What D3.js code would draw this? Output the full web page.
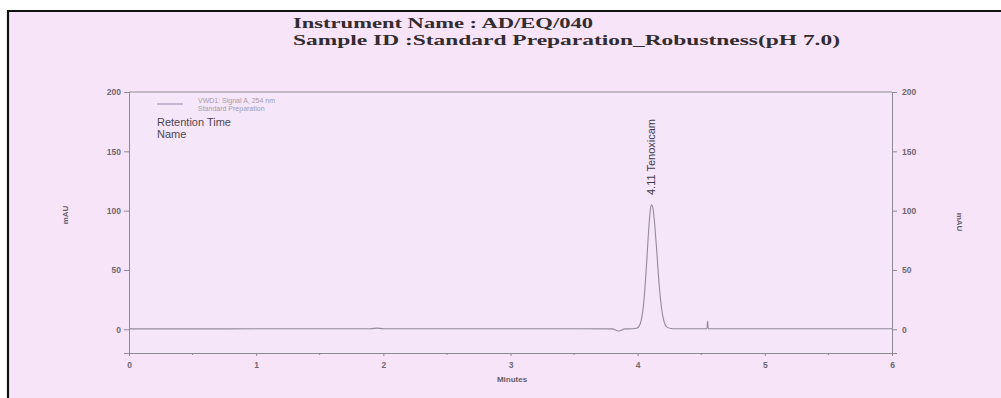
<!DOCTYPE html>
<html><head><meta charset="utf-8">
<script src="https://cdn.jsdelivr.net/npm/d3@7"></script>
<style>html,body{margin:0;padding:0;background:#fff;}svg{display:block;}</style>
</head><body>
<svg id="c" width="1001" height="398"></svg>
<script>
const titleLines = ["Instrument Name : AD/EQ/040", "Sample ID :Standard Preparation_Robustness(pH 7.0)"];
const legendLines = ["VWD1: Signal A, 254 nm", "Standard Preparation"];
const infoLines = ["Retention Time", "Name"];
const peakLabel = "4.11 Tenoxicam";
const xTicks = [0, 1, 2, 3, 4, 5, 6];
const yTicks = [0, 50, 100, 150, 200];
const xLabel = "Minutes";
const yLabel = "mAU";
const times  = [0, 0.5, 1, 1.5, 1.9, 1.95, 2, 2.5, 3, 3.5, 3.8, 3.85, 3.9, 3.96, 3.99, 4.01, 4.03, 4.05, 4.07, 4.09, 4.10, 4.11, 4.12, 4.13, 4.15, 4.17, 4.19, 4.21, 4.23, 4.26, 4.3, 4.4, 4.5, 4.545, 4.55, 4.555, 4.6, 5, 5.5, 6];
const values = [0.3, 0.3, 0.4, 0.4, 0.5, 1.0, 0.5, 0.4, 0.4, 0.4, 0.3, -1.5, 0.3, 0.4, 0.8, 2.4, 8.5, 25, 55, 89, 101, 105, 102, 93, 66, 36, 16, 5.5, 1.8, 0.7, 0.4, 0.4, 0.4, 0.5, 7, 0.5, 0.4, 0.4, 0.4, 0.4];

const svg = d3.select("#c");
svg.append("rect").attr("width",1001).attr("height",398).attr("fill","#fff");
svg.append("rect").attr("x",8).attr("y",11).attr("width",993).attr("height",387).attr("fill","#f8e4f9");
svg.append("line").attr("x1",7).attr("x2",1001).attr("y1",11).attr("y2",11).attr("stroke","#111").attr("stroke-width",2.2);
svg.append("line").attr("x1",8).attr("x2",8).attr("y1",10).attr("y2",398).attr("stroke","#111").attr("stroke-width",2.2);

const x = d3.scaleLinear().domain([0,6]).range([129,892]);
const y = d3.scaleLinear().domain([-20,200]).range([353,92]);

svg.append("rect").attr("x",x(0)).attr("y",y(200)).attr("width",x(6)-x(0)).attr("height",y(-20)-y(200)).attr("fill","#f6e6fa");

// titles
const tx = [293, 293], ty = [28, 45], tl = [300, 547];
titleLines.forEach((t,i)=>{
  svg.append("text").attr("x",tx[i]).attr("y",ty[i]).text(t)
    .attr("font-family","Liberation Serif, serif").attr("font-weight","bold").attr("font-size",15.5)
    .attr("fill","#332c30").attr("textLength",tl[i]).attr("lengthAdjust","spacingAndGlyphs");
});

const axisColor = "#8e8a92";
const styleAxis = g => {
  g.selectAll("path").attr("stroke",axisColor);
  g.selectAll("line").attr("stroke",axisColor);
  g.selectAll("text").attr("fill","#6e6872").attr("font-family","Liberation Sans, Arial, sans-serif").attr("font-size",8.5).attr("font-weight","bold");
};
svg.append("g").attr("transform",`translate(0,${y(-20)})`)
  .call(d3.axisBottom(x).tickValues(xTicks).tickFormat(d3.format("d")).tickSize(3).tickPadding(6)).call(styleAxis);
svg.append("g").attr("transform",`translate(${x(0)},0)`)
  .call(d3.axisLeft(y).tickValues(yTicks).tickSize(5).tickPadding(3)).call(styleAxis);
svg.append("g").attr("transform",`translate(${x(6)},0)`)
  .call(d3.axisRight(y).tickValues(yTicks).tickSize(5).tickPadding(5)).call(styleAxis);
svg.append("line").attr("x1",x(0)).attr("x2",x(6)).attr("y1",y(200)).attr("y2",y(200)).attr("stroke",axisColor);
// minor ticks
svg.append("g").selectAll("line").data(d3.range(0.5,6,1)).join("line")
  .attr("x1",d=>x(d)).attr("x2",d=>x(d)).attr("y1",y(-20)).attr("y2",y(-20)+2).attr("stroke",axisColor);

// axis titles
svg.append("text").attr("x",512).attr("y",382).attr("text-anchor","middle").text(xLabel)
  .attr("font-family","Liberation Sans, Arial, sans-serif").attr("font-size",8).attr("font-weight","bold").attr("fill","#645d68");
svg.append("text").attr("transform","translate(68,215) rotate(-90)").attr("text-anchor","middle").text(yLabel)
  .attr("font-family","Liberation Sans, Arial, sans-serif").attr("font-size",8).attr("font-weight","bold").attr("fill","#645d68");
svg.append("text").attr("transform","translate(957,222) rotate(90)").attr("text-anchor","middle").text(yLabel)
  .attr("font-family","Liberation Sans, Arial, sans-serif").attr("font-size",8).attr("font-weight","bold").attr("fill","#645d68");

// trace
const data = times.map((t,i)=>[t, values[i]]);
svg.append("path").datum(data).attr("fill","none").attr("stroke","#948a9c").attr("stroke-width",1.1)
  .attr("d", d3.line().x(d=>x(d[0])).y(d=>y(d[1])).curve(d3.curveMonotoneX));

// peak label
svg.append("text").attr("transform",`translate(${x(4.11)+3},195) rotate(-90)`).text(peakLabel)
  .attr("font-family","Liberation Sans, Arial, sans-serif").attr("font-size",11).attr("fill","#403a46");

// legend
svg.append("line").attr("x1",157).attr("x2",183).attr("y1",104).attr("y2",104).attr("stroke","#9a86ad").attr("stroke-width",1);
legendLines.forEach((t,i)=>{
  svg.append("text").attr("x",198).attr("y",103+i*8).text(t)
    .attr("font-family","Liberation Sans, Arial, sans-serif").attr("font-size",7).attr("fill","#a49cab");
});
infoLines.forEach((t,i)=>{
  svg.append("text").attr("x",157).attr("y",126+i*12).text(t)
    .attr("font-family","Liberation Sans, Arial, sans-serif").attr("font-size",11).attr("fill","#4d4652");
});
</script>
</body></html>
